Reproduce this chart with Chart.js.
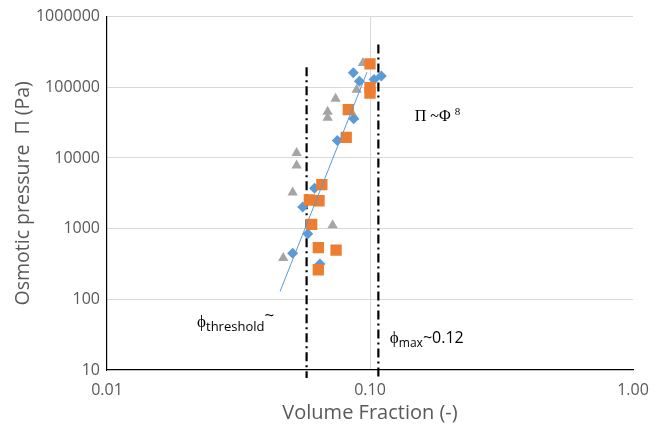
<!DOCTYPE html>
<html>
<head>
<meta charset="utf-8">
<script src="https://cdn.jsdelivr.net/npm/chart.js@4/dist/chart.umd.min.js"></script>
<style>
  html, body { margin: 0; padding: 0; background: #ffffff; }
  #wrap { width: 665px; height: 426px; }
</style>
</head>
<body>
<div id="wrap"><canvas id="c" width="665" height="426"></canvas></div>
<script>
// ---- data ----
const grayX   = [0.094, 0.089, 0.074, 0.069, 0.069, 0.087, 0.0526, 0.0526, 0.0508, 0.0721, 0.0468];
const grayY   = [221000, 92000, 69000, 45000, 37000, 38000, 11800, 7800, 3240, 1120, 385];

const orangeX = [0.100, 0.100, 0.100, 0.0827, 0.0812, 0.0656, 0.0588, 0.0640, 0.0600, 0.0636, 0.0743, 0.0636];
const orangeY = [214000, 99000, 83000, 48300, 19500, 4190, 2540, 2480, 1150, 540, 496, 262];

const blueX   = [0.0864, 0.0911, 0.1036, 0.1104, 0.0867, 0.0751, 0.0615, 0.0555, 0.0580, 0.0508, 0.0645];
const blueY   = [160000, 122000, 129000, 144000, 35800, 17700, 3720, 2030, 850, 450, 315];

const trendX  = [0.0455, 0.0974];
const trendY  = [129, 163500];

const thresholdX = [0.0574, 0.0574];
const thresholdY = [192000, 7.7];
const maxX       = [0.1076, 0.1076];
const maxY       = [404000, 7.7];

const xTicks = [0.01, 0.1, 1];
const yTicks = [10, 100, 1000, 10000, 100000, 1000000];

// annotation anchors (data coordinates)
const labelPower     = { x: 0.148, y: 33500 };
const labelThreshold = { x: 0.022, y: 40 };
const labelMax       = { x: 0.119, y: 24 };

const pts = (xs, ys) => xs.map((x, i) => ({ x: x, y: ys[i] }));

const annotations = {
  id: 'annotations',
  afterDatasetsDraw(chart) {
    const ctx = chart.ctx, xs = chart.scales.x, ys = chart.scales.y;
    ctx.save();
    ctx.fillStyle = '#000';
    ctx.textBaseline = 'alphabetic';
    ctx.textAlign = 'left';
    // Π ~Φ 8
    let px = xs.getPixelForValue(labelPower.x), py = ys.getPixelForValue(labelPower.y);
    ctx.font = '16px "Liberation Serif", serif';
    const t1 = 'Π ~Φ ';
    ctx.fillText(t1, px, py);
    let w = ctx.measureText(t1).width;
    ctx.font = '11px "Liberation Serif", serif';
    ctx.fillText('8', px + w, py - 6);

    // φthreshold~
    px = xs.getPixelForValue(labelThreshold.x); py = ys.getPixelForValue(labelThreshold.y);
    ctx.font = '17px "Liberation Serif", serif';
    ctx.fillText('ϕ', px, py);
    w = ctx.measureText('ϕ').width;
    ctx.font = '13px "Open Sans", sans-serif';
    ctx.fillText('threshold', px + w, py + 4);
    let w2 = ctx.measureText('threshold').width;
    ctx.font = '17px "Open Sans", sans-serif';
    ctx.fillText('~', px + w + w2, py - 6);

    // φmax~0.12
    px = xs.getPixelForValue(labelMax.x); py = ys.getPixelForValue(labelMax.y);
    ctx.font = '17px "Liberation Serif", serif';
    ctx.fillText('ϕ', px, py);
    w = ctx.measureText('ϕ').width;
    ctx.font = '12px "Open Sans", sans-serif';
    ctx.fillText('max', px + w, py + 4);
    w2 = ctx.measureText('max').width;
    ctx.font = '16px "Open Sans", sans-serif';
    ctx.fillText('~0.12', px + w + w2, py);
    ctx.restore();
  }
};

const tickFont = { family: '"Open Sans", sans-serif', size: 16 };
const grey = '#595959';

new Chart(document.getElementById('c'), {
  type: 'scatter',
  data: {
    datasets: [
      { label: 'threshold', type: 'line', data: pts(thresholdX, thresholdY), borderColor: '#000', borderWidth: 2.2,
        borderDash: [9, 4, 2, 4], pointRadius: 0, fill: false, clip: false, order: 5 },
      { label: 'max', type: 'line', data: pts(maxX, maxY), borderColor: '#000', borderWidth: 2.2,
        borderDash: [9, 4, 2, 4], pointRadius: 0, fill: false, clip: false, order: 5 },
      { label: 'gray', data: pts(grayX, grayY), pointStyle: 'triangle', pointRadius: 6,
        backgroundColor: '#a5a5a5', borderColor: '#a5a5a5', borderWidth: 0, order: 4 },
      { label: 'blue', data: pts(blueX, blueY), pointStyle: 'rectRot', pointRadius: 5.5,
        backgroundColor: '#5b9bd5', borderColor: '#5b9bd5', borderWidth: 0, order: 3 },
      { label: 'orange', data: pts(orangeX, orangeY), pointStyle: 'rect', pointRadius: 8,
        backgroundColor: '#ed7d31', borderColor: '#ed7d31', borderWidth: 0, order: 2 },
      { label: 'trend', type: 'line', data: pts(trendX, trendY), borderColor: '#5b9bd5', borderWidth: 1,
        pointRadius: 0, fill: false, order: 1 }
    ]
  },
  options: {
    responsive: false,
    animation: false,
    devicePixelRatio: 1,
    layout: { padding: { left: 0, top: 14, right: 32, bottom: 0 } },
    plugins: { legend: { display: false }, tooltip: { enabled: false } },
    scales: {
      x: {
        type: 'logarithmic', min: 0.01, max: 1, position: 'bottom',
        afterBuildTicks: s => { s.ticks = xTicks.map(v => ({ value: v })); },
        afterFit: s => { s.height = 56; },
        grid: { color: c => (c.tick && c.tick.value === 0.1) ? '#d9d9d9' : 'rgba(0,0,0,0)', drawTicks: false, lineWidth: 1 },
        border: { display: true, color: '#000', width: 1.2 },
        ticks: { callback: v => Number(v).toFixed(2), font: tickFont, color: grey, padding: 11, maxRotation: 0, autoSkip: false },
        title: { display: true, text: 'Volume Fraction (-)', color: grey, font: { family: '"Open Sans", sans-serif', size: 20 }, padding: { top: 0, bottom: 1 } }
      },
      y: {
        type: 'logarithmic', min: 10, max: 1000000,
        afterBuildTicks: s => { s.ticks = yTicks.map(v => ({ value: v })); },
        afterFit: s => { s.width = 107; },
        grid: { color: c => (c.tick && c.tick.value === 10) ? 'rgba(0,0,0,0)' : '#d9d9d9', drawTicks: false, lineWidth: 1 },
        border: { display: true, color: '#000', width: 1.2 },
        ticks: { callback: v => String(v), font: tickFont, color: grey, padding: 7, autoSkip: false },
        title: { display: true, text: 'Osmotic pressure  Π (Pa)', color: grey, font: { family: '"Open Sans", sans-serif', size: 19.5 }, padding: { top: 12, bottom: 0 } }
      }
    }
  },
  plugins: [annotations]
});
</script>
</body>
</html>
